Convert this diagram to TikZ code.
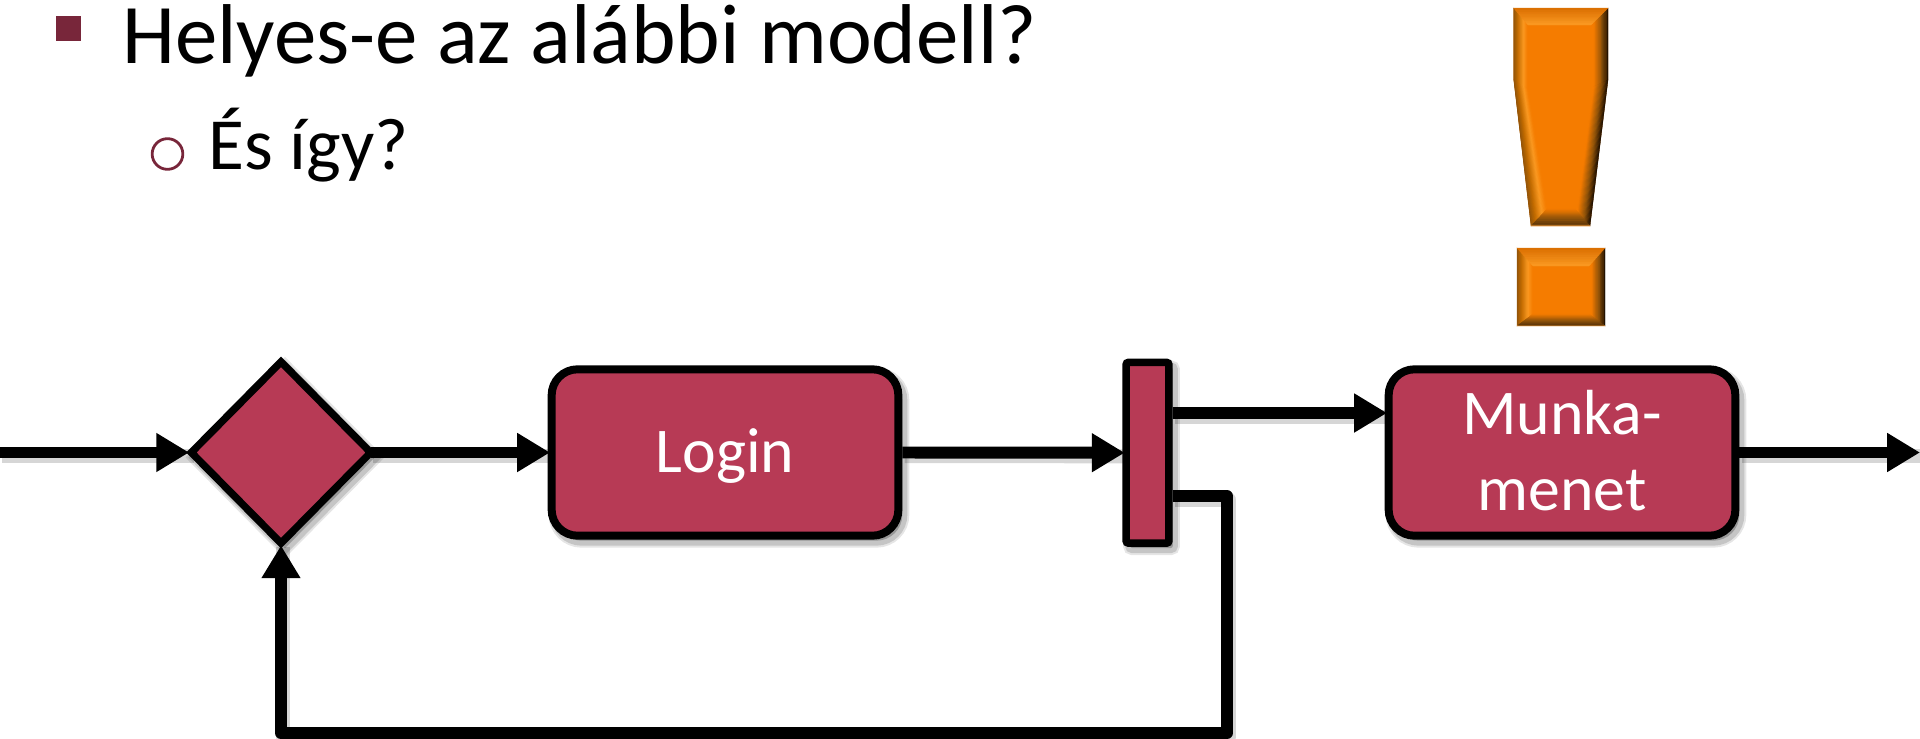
\documentclass[tikz,border=0pt]{standalone}
\usepackage{fontspec}
\setmainfont{Carlito}
\usetikzlibrary{arrows.meta,calc,shapes.geometric}
\definecolor{boxred}{HTML}{B73A55}
\definecolor{bulletred}{HTML}{78263A}
\definecolor{exbase}{HTML}{F57C00}
\definecolor{exlight}{HTML}{FB9A22}
\definecolor{extop}{HTML}{D96D00}
\definecolor{exbrown}{HTML}{8E520A}
\definecolor{exdark}{HTML}{5E3608}
\definecolor{exblack}{HTML}{170B00}
\definecolor{exmid}{HTML}{C06A00}
\definecolor{expale}{HTML}{EE9A3C}
\newcommand\bevband[8]{%
  \foreach \i in {0,...,7}{%
    \pgfmathsetmacro\ta{#5+(#6-#5)*\i/8}%
    \pgfmathsetmacro\tb{#5+(#6-#5)*(\i+1)/8}%
    \pgfmathsetmacro\pc{100*(\i+.5)/8}%
    \fill[#8!\pc!#7,draw=#8!\pc!#7,line width=.15pt]
      ($(#1)!\ta!(#4)$) -- ($(#2)!\ta!(#3)$) -- ($(#2)!\tb!(#3)$) -- ($(#1)!\tb!(#4)$) -- cycle;}}
\newcommand\bevgrad[5]{%
  \foreach \xa/\xb/\ca/\cb in #5 {\bevband{#1}{#2}{#3}{#4}{\xa}{\xb}{\ca}{\cb}}}
\newcommand\gtop{0/1/extop/exlight}
\newcommand\gleft{0/.3/exbrown/exmid,.3/.7/exmid/exlight,.7/1/exlight/exbase}
\newcommand\gright{0/.4/exblack/exbrown,.4/.85/exbrown/exbase,.85/1/exbase/exbase}
\newcommand\gbottom{0/.12/expale/exdark,.12/.45/exdark/exbrown,.45/1/exbrown/exbase}
\tikzset{
  x=.5bp,y=-.5bp,
  softnode/.style={
    preaction={draw=black,fill=black,opacity=.10,line width=7pt,transform canvas={shift={(2pt,-2.5pt)}}},
    preaction={draw=black,fill=black,opacity=.14,line width=5pt,transform canvas={shift={(2pt,-2.5pt)}}}},
  flowbox/.style={softnode,draw=black,fill=boxred,line width=4pt,rounded corners=13pt,
    minimum width=174pt,minimum height=83.5pt,inner sep=0pt,text=white,
    font=\fontsize{32pt}{38pt}\selectfont,align=center},
  gate/.style={softnode,draw=black,fill=boxred,line width=3.7pt,diamond,aspect=1,inner sep=0pt,outer sep=0pt,
    minimum width=90pt,minimum height=91pt},
  forkbar/.style={softnode,draw=black,fill=boxred,line width=3.8pt,rounded corners=1.2pt,inner sep=0pt,
    minimum width=21.5pt,minimum height=90.7pt},
  flowline/.style={draw=black,line width=6pt,line join=round,
    -{Triangle[length=16.5pt,width=18.5pt,sep=0pt]},shorten >=-1.2pt},
  lineshadow/.style={draw=black,opacity=.16,line width=7pt,line join=round,
    transform canvas={shift={(1.2pt,-1.8pt)}}},
  headtext/.style={anchor=base west,inner sep=0pt,text=black,font=\fontsize{42.6pt}{50pt}\selectfont},
  subtext/.style={anchor=base west,inner sep=0pt,text=black,font=\fontsize{36.9pt}{44pt}\selectfont},
  tipgap/.style={shorten >=1.1pt}
}
\begin{document}
\begin{tikzpicture}
\useasboundingbox (0,0) rectangle (1920,738);
% bullets and text
\node[fill=bulletred,minimum size=12.5pt,inner sep=0pt,outer sep=0pt] (bullet1) at (68.5,28.5) {};
\node[draw=bulletred,circle,line width=1.4pt,minimum size=15.4pt,inner sep=0pt,outer sep=0pt] (bullet2) at (167.5,154) {};
\node[headtext] (title) at (122,63) {Helyes-e az alábbi modell?};
\node[subtext] (sub) at (208,169) {És így?};
% exclamation mark body
\coordinate (a1) at (1513.7,8); \coordinate (a2) at (1608,8);
\coordinate (a3) at (1608,80); \coordinate (a4) at (1590,226);
\coordinate (a5) at (1531,226); \coordinate (a6) at (1513.7,80);
\coordinate (b1) at (1528,25); \coordinate (b2) at (1591,25);
\coordinate (b3) at (1591,88); \coordinate (b4) at (1575,209);
\coordinate (b5) at (1547,209); \coordinate (b6) at (1528,88);
\fill[exbase] (a1)--(a2)--(a3)--(a4)--(a5)--(a6)--cycle;
\bevgrad{a6}{a5}{b5}{b6}{\gleft}
\bevgrad{a1}{a6}{b6}{b1}{\gleft}
\bevgrad{a2}{a3}{b3}{b2}{\gright}
\bevgrad{a3}{a4}{b4}{b3}{\gright}
\bevgrad{a1}{a2}{b2}{b1}{\gtop}
\bevgrad{a5}{a4}{b4}{b5}{\gbottom}
% exclamation mark dot
\coordinate (c1) at (1517,248); \coordinate (c2) at (1605,248);
\coordinate (c3) at (1605,326); \coordinate (c4) at (1517,326);
\coordinate (d1) at (1533,266); \coordinate (d2) at (1589,266);
\coordinate (d3) at (1589,314); \coordinate (d4) at (1533,314);
\fill[exbase] (c1)--(c2)--(c3)--(c4)--cycle;
\bevgrad{c1}{c4}{d4}{d1}{\gleft}
\bevgrad{c2}{c3}{d3}{d2}{\gright}
\bevgrad{c1}{c2}{d2}{d1}{\gtop}
\bevgrad{c4}{c3}{d3}{d4}{\gbottom}
% nodes
\node[gate] (dia) at (281,452.5) {};
\node[flowbox] (login) at (725,452.5) {\raisebox{-10.1pt}[0pt][0pt]{Login}};
\node[forkbar] (bar) at (1147.5,452.75) {};
\node[flowbox] (munka) at (1562,452.5) {Munka-\\menet\rule[-1.9pt]{0pt}{0pt}};
% helper coordinates
\coordinate (in) at (0,452.5);
\coordinate (out) at (1920,452.5);
\coordinate (yA) at (0,413);
\coordinate (yB) at (0,496);
\coordinate (loopA) at (1227,496);
\coordinate (loopB) at (1227,733);
% connector shadows
\draw[lineshadow] (in) -- (dia.west);
\draw[lineshadow] (dia.east) -- (login.west);
\draw[lineshadow] (login.east) -- (bar.west);
\draw[lineshadow] (bar.east |- yA) -- (munka.west |- yA);
\draw[lineshadow] (munka.east) -- (out);
\draw[lineshadow] (bar.east |- yB) -- (loopA) -- (loopB) -- (dia.south |- loopB) -- (dia.south);
% connectors
\draw[flowline,tipgap] (in) -- (dia.west);
\draw[flowline] (dia.east) -- (login.west);
\draw[flowline] (login.east) -- (bar.west);
\draw[flowline] (bar.east |- yA) -- (munka.west |- yA);
\draw[flowline,shorten >=0pt] (munka.east) -- (out);
\draw[flowline,tipgap] (bar.east |- yB) -- (loopA) -- (loopB) -- (dia.south |- loopB) -- (dia.south);
\end{tikzpicture}
\end{document}
